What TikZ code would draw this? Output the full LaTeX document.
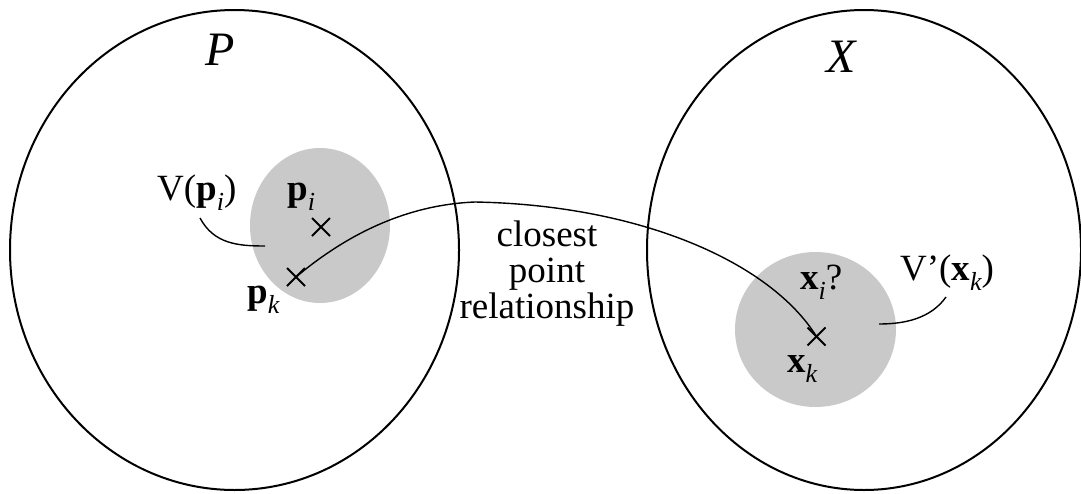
\documentclass[tikz,border=0pt]{standalone}
\usepackage{fontspec}
\setmainfont{Liberation Serif}
\usetikzlibrary{calc}
\newcommand{\lowidx}[1]{\raisebox{-0.28em}{\fontsize{26}{26}\selectfont\itshape #1}}
\begin{document}
\begin{tikzpicture}[x=1pt,y=-1pt,
  setline/.style={line width=2pt},
  region/.style={fill=black!21,draw=none},
  link/.style={line width=1.4pt},
  lbl/.style={inner sep=0pt,anchor=base west,font=\fontsize{37}{36}\selectfont},
  setname/.style={inner sep=0pt,anchor=base west,font=\fontsize{48}{48}\selectfont\itshape}]
\useasboundingbox (0,0) rectangle (1081,493);

% the two sets
\draw[setline] (234.5,250) ellipse [x radius=224.5, y radius=240];
\draw[setline] (864,250) ellipse [x radius=217, y radius=240];

% Voronoi-like regions
\fill[region] (320,225.5) ellipse [x radius=70, y radius=77.5];
\fill[region] (815.5,329.5) ellipse [x radius=80.5, y radius=77.5];

% points
\coordinate (pi) at (321,227);
\coordinate (pk) at (296,277);
\coordinate (xk) at (816.5,336.5);
\foreach \p in {pi,pk,xk}
  \draw[line width=2pt] ($(\p)+(-9,-9)$) -- ($(\p)+(9,9)$) ($(\p)+(-9,9)$) -- ($(\p)+(9,-9)$);

% closest point relationship
\coordinate (top) at (475,202);
\draw[link] (pk) .. controls (340,240) and (400,205) .. (top)
                 .. controls (640,205) and (770,262) .. (xk);

% leaders
\coordinate (vpi) at (200,218);
\coordinate (vpiend) at (265,246);
\draw[link] (vpi) .. controls (214,244) and (238,246) .. (vpiend);
\coordinate (vxk) at (946,297);
\coordinate (vxkend) at (879,324);
\draw[link] (vxk) .. controls (931,318) and (906,324) .. (vxkend);

% labels
\node[setname] (P) at (205,65) {P};
\node[setname] (X) at (826,72) {X};
\node[lbl] (Vp) at (157,200) {V(\textbf{p}\lowidx{i})};
\node[lbl] (pil) at (287,200) {\textbf{p}\lowidx{i}};
\node[lbl] (pkl) at (247,303) {\textbf{p}\lowidx{k}};
\node[lbl] (xil) at (800,289) {\textbf{x}\lowidx{i}?};
\node[lbl] (xkl) at (787,372) {\textbf{x}\lowidx{k}};
\node[lbl] (Vx) at (900,280) {V’(\textbf{x}\lowidx{k})};
\node[inner sep=0pt,align=center,font=\fontsize{37}{36}\selectfont] (rel) at (547,274)
  {closest\\point\\relationship};
\end{tikzpicture}
\end{document}
